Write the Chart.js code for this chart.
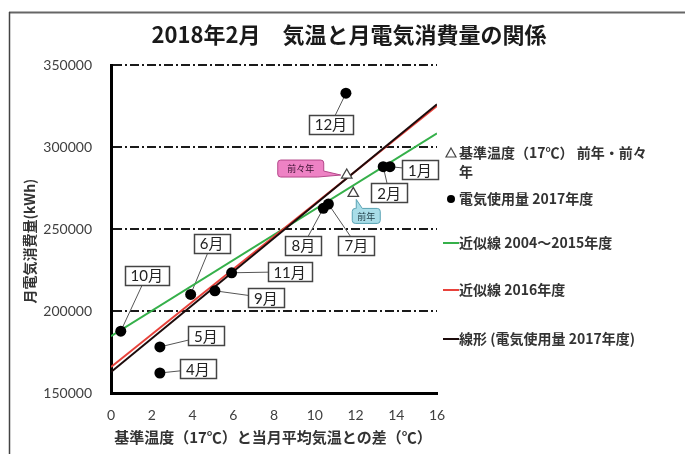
<!DOCTYPE html>
<html lang="ja">
<head>
  <meta charset="UTF-8" />
  <title>2018年2月 気温と月電気消費量の関係</title>
  <script src="https://cdn.jsdelivr.net/npm/chart.js"></script>
  <style>
    html, body { margin: 0; padding: 0; background: #fff; }
    #chart { display: block; }
  </style>
</head>
<body>
  <canvas id="chart" width="685" height="454"></canvas>

  <script>
    // 2017年度 monthly data (x: 基準温度との差, y: kWh)
    const monthLabels = ['4月', '5月', '6月', '7月', '8月', '9月', '10月', '11月', '12月', '1月', '2月'];
    const tempDiff2017 = [2.40, 2.40, 3.91, 10.67, 10.42, 5.10, 0.48, 5.92, 11.53, 13.69, 13.36];
    const usage2017 = [162200, 178100, 210100, 265200, 262600, 212300, 187700, 223300, 332800, 288000, 288000];

    // 基準温度(17℃) 前々年・前年
    const refLabels = ['前々年', '前年'];
    const refTempDiff = [11.57, 11.89];
    const refUsage = [282900, 271700];

    // fitted lines, value at x = 0 and x = 16
    const fitX = [0, 16];
    const fit2004to2015 = [184600, 308400];
    const fit2016 = [165900, 325000];
    const fit2017 = [162800, 326100];

    const xTickStep = 2;
    const yTickStep = 50000;

    // callout box offsets from the point (px), kept apart from the data
    const monthBoxOffset = {
      '4月': [38, -4], '5月': [46, -11], '6月': [21, -51], '7月': [28, 41],
      '8月': [-20, 37], '9月': [51, 7], '10月': [26, -56], '11月': [58, -1],
      '12月': [-15, 31], '1月': [30, 3], '2月': [6, 26]
    };

    const NUM_FONT = "Lato, 'Noto Sans CJK JP', sans-serif";
    const JP_FONT = "'Noto Sans CJK JP', sans-serif";

    const toPoints = (xs, ys) => xs.map((x, i) => ({ x: x, y: ys[i] }));

    const framePlugin = {
      id: 'frame',
      beforeDraw(chart) {
        const ctx = chart.ctx;
        ctx.save();
        ctx.strokeStyle = '#666';
        ctx.lineWidth = 2;
        ctx.beginPath();
        ctx.moveTo(9, 12.5);
        ctx.lineTo(685, 12.5);
        ctx.stroke();
        ctx.strokeStyle = '#444';
        ctx.lineWidth = 1.5;
        ctx.beginPath();
        ctx.moveTo(9.5, 12);
        ctx.lineTo(9.5, 454);
        ctx.stroke();

        ctx.fillStyle = '#1a1a1a';
        ctx.font = "bold 22px " + JP_FONT;
        ctx.textAlign = 'center';
        ctx.textBaseline = 'middle';
        ctx.fillText('2018年2月　気温と月電気消費量の関係', 349, 35);

        // axis titles
        ctx.fillStyle = '#333';
        ctx.font = "bold 15px " + JP_FONT;
        ctx.fillText('基準温度（17℃）と当月平均気温との差（℃）', 273, 437);
        ctx.save();
        ctx.translate(30, 241);
        ctx.rotate(-Math.PI / 2);
        ctx.font = "bold 14px " + JP_FONT;
        ctx.fillText('月電気消費量(kWh)', 0, 0);
        ctx.restore();
        ctx.restore();
      }
    };

    function boxAt(ctx, cx, cy, w, h) {
      ctx.beginPath();
      ctx.rect(Math.round(cx - w / 2) + 0.5, Math.round(cy - h / 2) + 0.5, w, h);
      ctx.fill();
      ctx.stroke();
    }

    const calloutPlugin = {
      id: 'callouts',
      beforeDatasetsDraw(chart) {
        const ctx = chart.ctx;
        const meta = chart.getDatasetMeta(1);
        ctx.save();
        ctx.strokeStyle = '#555';
        ctx.lineWidth = 1;
        meta.data.forEach((pt, i) => {
          const off = monthBoxOffset[monthLabels[i]];
          ctx.beginPath();
          ctx.moveTo(pt.x, pt.y);
          ctx.lineTo(pt.x + off[0], pt.y + off[1]);
          ctx.stroke();
        });
        ctx.restore();
      },
      afterDatasetsDraw(chart) {
        const ctx = chart.ctx;
        const meta = chart.getDatasetMeta(1);
        ctx.save();
        ctx.font = "15px " + NUM_FONT;
        ctx.textAlign = 'center';
        ctx.textBaseline = 'middle';
        meta.data.forEach((pt, i) => {
          const label = monthLabels[i];
          const off = monthBoxOffset[label];
          const w = Math.round(ctx.measureText(label).width) + 12;
          ctx.fillStyle = '#fff';
          ctx.strokeStyle = '#444';
          ctx.lineWidth = 1.5;
          boxAt(ctx, pt.x + off[0], pt.y + off[1], w, 19);
          ctx.fillStyle = '#222';
          ctx.fillText(label, pt.x + off[0], pt.y + off[1] + 1);
        });

        // 前々年 / 前年 tags
        const ref = chart.getDatasetMeta(0).data;
        ctx.font = "9px " + JP_FONT;
        // 前々年: pink tag to the left
        let p = ref[0];
        ctx.fillStyle = '#ee82c4';
        ctx.strokeStyle = '#b4488a';
        ctx.lineWidth = 1;
        ctx.beginPath();
        const x0 = p.x - 69, y0 = p.y - 15, w0 = 46, h0 = 17;
        ctx.moveTo(x0 + 3, y0);
        ctx.lineTo(x0 + w0 - 3, y0);
        ctx.quadraticCurveTo(x0 + w0, y0, x0 + w0, y0 + 3);
        ctx.lineTo(x0 + w0, y0 + h0 - 6);
        ctx.lineTo(p.x - 6, p.y);
        ctx.lineTo(x0 + w0 - 6, y0 + h0);
        ctx.lineTo(x0 + 3, y0 + h0);
        ctx.quadraticCurveTo(x0, y0 + h0, x0, y0 + h0 - 3);
        ctx.lineTo(x0, y0 + 3);
        ctx.quadraticCurveTo(x0, y0, x0 + 3, y0);
        ctx.closePath();
        ctx.fill();
        ctx.stroke();
        ctx.fillStyle = '#3a1030';
        ctx.fillText(refLabels[0], x0 + w0 / 2, y0 + h0 / 2 + 0.5);

        // 前年: blue tag below right
        p = ref[1];
        ctx.fillStyle = '#a9dde8';
        ctx.strokeStyle = '#5aa3b4';
        const x1 = p.x - 1, y1 = p.y + 15, w1 = 28, h1 = 15;
        ctx.beginPath();
        ctx.moveTo(x1 + 3, y1);
        ctx.lineTo(x1 + 4, y1);
        ctx.lineTo(p.x + 3, p.y + 6);
        ctx.lineTo(x1 + 10, y1);
        ctx.lineTo(x1 + w1 - 3, y1);
        ctx.quadraticCurveTo(x1 + w1, y1, x1 + w1, y1 + 3);
        ctx.lineTo(x1 + w1, y1 + h1 - 3);
        ctx.quadraticCurveTo(x1 + w1, y1 + h1, x1 + w1 - 3, y1 + h1);
        ctx.lineTo(x1 + 3, y1 + h1);
        ctx.quadraticCurveTo(x1, y1 + h1, x1, y1 + h1 - 3);
        ctx.lineTo(x1, y1 + 3);
        ctx.quadraticCurveTo(x1, y1, x1 + 3, y1);
        ctx.closePath();
        ctx.fill();
        ctx.stroke();
        ctx.fillStyle = '#1d3a44';
        ctx.fillText(refLabels[1], x1 + w1 / 2, y1 + h1 / 2 + 0.5);
        ctx.restore();
      }
    };

    const legendPlugin = {
      id: 'sideLegend',
      afterDraw(chart) {
        const ctx = chart.ctx;
        const rows = [153, 199, 243, 290, 339];
        const textX = 459;
        const maxW = 195;
        ctx.save();
        ctx.font = "bold 14px " + JP_FONT;
        ctx.textAlign = 'left';
        ctx.textBaseline = 'middle';
        chart.data.datasets.forEach((ds, i) => {
          const y = rows[i];
          // marker
          ctx.lineWidth = 2;
          if (ds.pointStyle === 'triangle') {
            ctx.strokeStyle = '#444';
            ctx.lineWidth = 1.2;
            ctx.beginPath();
            ctx.moveTo(451, y - 5);
            ctx.lineTo(456, y + 4);
            ctx.lineTo(446, y + 4);
            ctx.closePath();
            ctx.stroke();
          } else if (!ds.showLine) {
            ctx.fillStyle = '#000';
            ctx.beginPath();
            ctx.arc(451, y, 4, 0, Math.PI * 2);
            ctx.fill();
          } else {
            ctx.strokeStyle = ds.borderColor;
            ctx.beginPath();
            ctx.moveTo(443, y);
            ctx.lineTo(459, y);
            ctx.stroke();
          }
          // label, wrapped to the legend width
          ctx.fillStyle = '#333';
          let line = '';
          let ly = y;
          for (const ch of ds.label) {
            if (ctx.measureText(line + ch).width > maxW) {
              ctx.fillText(line, textX, ly);
              line = ch;
              ly += 19;
            } else {
              line += ch;
            }
          }
          ctx.fillText(line, textX, ly);
        });
        ctx.restore();
      }
    };

    new Chart(document.getElementById('chart'), {
      type: 'scatter',
      data: {
        datasets: [
          {
            label: '基準温度（17℃） 前年・前々年',
            data: toPoints(refTempDiff, refUsage),
            pointStyle: 'triangle',
            pointRadius: 6,
            backgroundColor: '#fff',
            borderColor: '#444',
            borderWidth: 1.3,
            order: 1
          },
          {
            label: '電気使用量 2017年度',
            data: toPoints(tempDiff2017, usage2017),
            pointRadius: 5.5,
            backgroundColor: '#000',
            borderColor: '#000',
            borderWidth: 0,
            order: 0
          },
          {
            label: '近似線 2004～2015年度',
            data: toPoints(fitX, fit2004to2015),
            showLine: true,
            pointRadius: 0,
            borderColor: '#35b04a',
            borderWidth: 2,
            order: 4
          },
          {
            label: '近似線 2016年度',
            data: toPoints(fitX, fit2016),
            showLine: true,
            pointRadius: 0,
            borderColor: '#e8423b',
            borderWidth: 2,
            order: 3
          },
          {
            label: '線形 (電気使用量 2017年度)',
            data: toPoints(fitX, fit2017),
            showLine: true,
            pointRadius: 0,
            borderColor: '#1c0b0b',
            borderWidth: 2,
            order: 2
          }
        ]
      },
      options: {
        responsive: false,
        animation: false,
        devicePixelRatio: 1,
        layout: { padding: { left: 10, right: 248, top: 65, bottom: 0 } },
        plugins: {
          legend: { display: false },
          title: { display: false },
          tooltip: { enabled: false }
        },
        scales: {
          x: {
            type: 'linear',
            min: 0,
            max: 16,
            afterFit: s => { s.height = 61; },
            ticks: {
              stepSize: xTickStep,
              padding: 14,
              color: '#404040',
              font: { family: NUM_FONT, size: 14 }
            },
            grid: { display: false, drawTicks: false },
            border: { display: true, color: '#000', width: 3 }
          },
          y: {
            min: 150000,
            max: 350000,
            afterFit: s => { s.width = 101; },
            ticks: {
              stepSize: yTickStep,
              padding: 19,
              color: '#404040',
              font: { family: NUM_FONT, size: 14 },
              callback: v => String(v)
            },
            grid: {
              drawTicks: false,
              lineWidth: 2,
              color: c => (c.tick && c.tick.value === 150000) ? 'rgba(0,0,0,0)' : '#1a1a1a'
            },
            border: { display: true, color: '#000', width: 3, dash: [9, 3, 2, 3] }
          }
        }
      },
      plugins: [framePlugin, calloutPlugin, legendPlugin]
    });
  </script>
</body>
</html>
